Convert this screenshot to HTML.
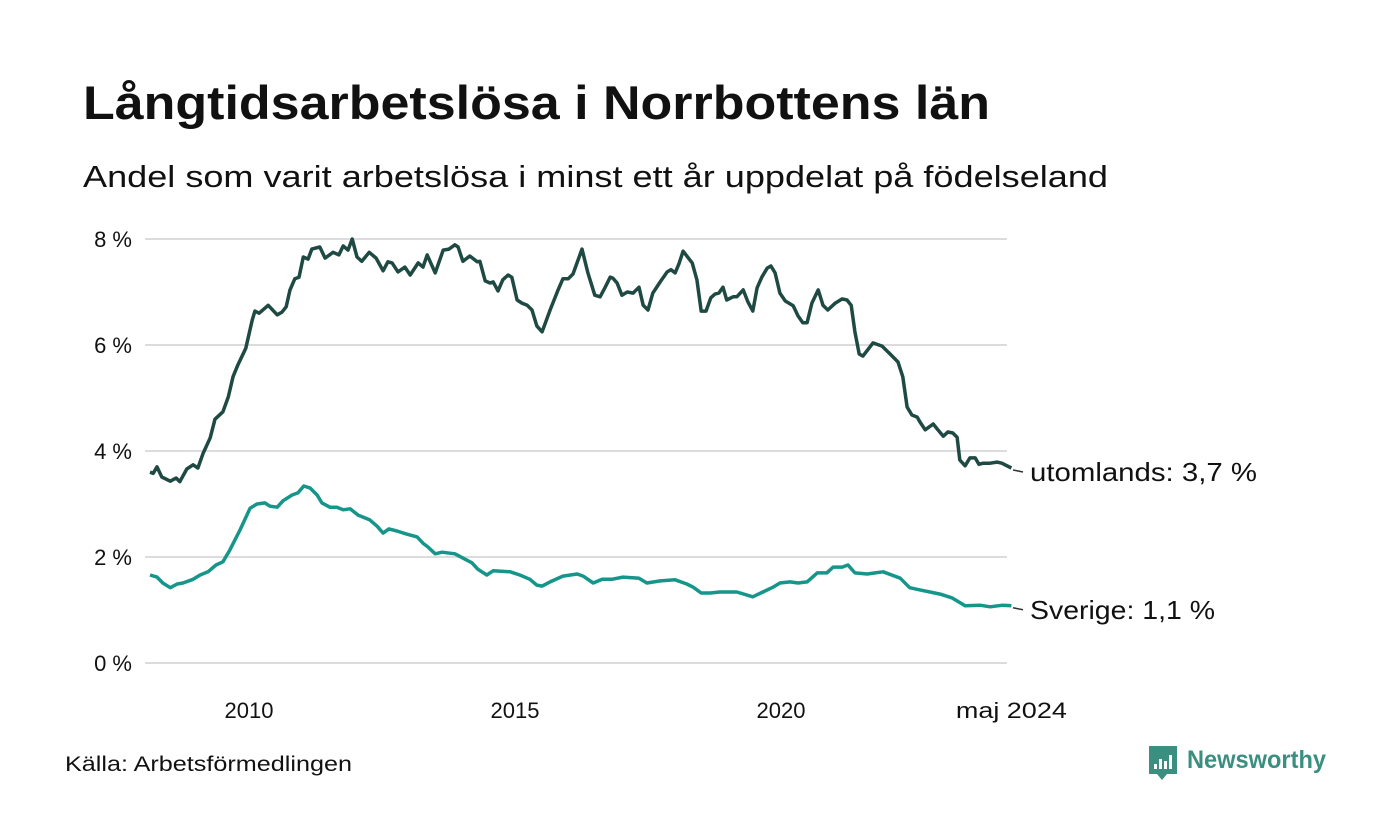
<!DOCTYPE html>
<html><head><meta charset="utf-8"><style>
body{margin:0;background:#fff;font-family:"Liberation Sans","DejaVu Sans",sans-serif}
svg{display:block}
</style></head><body>
<svg width="1400" height="840" viewBox="0 0 1400 840">
<text x="83" y="119" font-size="47" font-weight="bold" fill="#111" textLength="907" lengthAdjust="spacingAndGlyphs">Långtidsarbetslösa i Norrbottens län</text>
<text x="83" y="187" font-size="31" fill="#111" textLength="1025" lengthAdjust="spacingAndGlyphs">Andel som varit arbetslösa i minst ett år uppdelat på födelseland</text>
<g id="grid"></g>
<g id="yticks"></g>
<g id="xticks"></g>
<g id="series"></g>
<g id="labels"></g>
<text x="65" y="771" font-size="21" fill="#111" textLength="287" lengthAdjust="spacingAndGlyphs">Källa: Arbetsförmedlingen</text>
<g>
<path d="M1149 746 h28 v28 h-10 l-5 6 l-5 -6 h-8 z" fill="#3a8f80"/>
<rect x="1154" y="764" width="3" height="5" fill="#fff"/><rect x="1159" y="759" width="3" height="10" fill="#fff"/><rect x="1164" y="761" width="3" height="8" fill="#fff"/><rect x="1169" y="755" width="3" height="14" fill="#fff"/>
<text x="1187" y="768" font-size="25" font-weight="bold" fill="#3a8f80" textLength="139" lengthAdjust="spacingAndGlyphs">Newsworthy</text>
</g>
</svg>
<script>
const yTicks=[0,2,4,6,8];
const xTicks=[2010,2015,2020];
const endLabel="maj 2024";
const uDates=[2008.14,2008.20,2008.27,2008.36,2008.52,2008.63,2008.70,2008.83,2008.95,2009.04,2009.14,2009.27,2009.36,2009.51,2009.61,2009.70,2009.79,2009.94,2010.06,2010.11,2010.19,2010.36,2010.53,2010.62,2010.70,2010.77,2010.86,2010.94,2011.02,2011.11,2011.18,2011.33,2011.43,2011.58,2011.69,2011.77,2011.86,2011.94,2012.03,2012.12,2012.26,2012.39,2012.52,2012.61,2012.69,2012.80,2012.93,2013.03,2013.18,2013.27,2013.35,2013.50,2013.65,2013.76,2013.87,2013.93,2014.02,2014.15,2014.29,2014.34,2014.44,2014.53,2014.59,2014.68,2014.77,2014.87,2014.94,2015.04,2015.13,2015.23,2015.32,2015.41,2015.51,2015.66,2015.81,2015.90,2016.00,2016.09,2016.26,2016.37,2016.50,2016.60,2016.69,2016.79,2016.84,2016.92,2017.01,2017.11,2017.22,2017.33,2017.41,2017.50,2017.59,2017.73,2017.86,2017.93,2018.01,2018.08,2018.16,2018.33,2018.42,2018.50,2018.59,2018.68,2018.76,2018.83,2018.91,2018.98,2019.10,2019.17,2019.29,2019.38,2019.47,2019.55,2019.64,2019.74,2019.81,2019.89,2019.98,2020.08,2020.23,2020.32,2020.41,2020.49,2020.58,2020.70,2020.79,2020.88,2021.02,2021.15,2021.24,2021.32,2021.39,2021.47,2021.54,2021.64,2021.73,2021.90,2022.05,2022.20,2022.29,2022.37,2022.46,2022.56,2022.61,2022.71,2022.86,2022.95,2023.05,2023.14,2023.23,2023.31,2023.36,2023.46,2023.55,2023.65,2023.72,2023.80,2023.93,2024.06,2024.15,2024.33];
const uVals=[3.60,3.58,3.70,3.51,3.43,3.49,3.42,3.66,3.74,3.68,3.96,4.25,4.60,4.74,5.02,5.40,5.62,5.94,6.47,6.64,6.60,6.75,6.57,6.62,6.72,7.04,7.25,7.28,7.66,7.62,7.81,7.85,7.64,7.75,7.70,7.87,7.79,8.00,7.66,7.58,7.75,7.64,7.40,7.57,7.55,7.38,7.47,7.32,7.55,7.47,7.70,7.36,7.79,7.81,7.89,7.85,7.58,7.68,7.57,7.58,7.21,7.17,7.19,7.02,7.23,7.32,7.28,6.85,6.79,6.75,6.66,6.36,6.25,6.66,7.04,7.25,7.25,7.34,7.81,7.36,6.94,6.91,7.08,7.28,7.26,7.17,6.94,7.00,6.98,7.09,6.75,6.66,6.98,7.19,7.38,7.42,7.36,7.53,7.77,7.55,7.23,6.64,6.64,6.89,6.96,6.98,7.09,6.85,6.91,6.91,7.04,6.81,6.64,7.08,7.28,7.45,7.49,7.36,6.98,6.83,6.74,6.55,6.42,6.42,6.79,7.04,6.75,6.66,6.79,6.87,6.85,6.75,6.25,5.83,5.79,5.92,6.04,5.98,5.83,5.68,5.40,4.83,4.68,4.64,4.55,4.40,4.51,4.40,4.28,4.36,4.34,4.26,3.83,3.72,3.87,3.87,3.75,3.77,3.77,3.79,3.77,3.68];
const sDates=[2008.14,2008.27,2008.38,2008.52,2008.65,2008.76,2008.95,2009.08,2009.23,2009.38,2009.51,2009.64,2009.83,2010.02,2010.15,2010.30,2010.39,2010.53,2010.64,2010.81,2010.92,2011.03,2011.15,2011.28,2011.37,2011.52,2011.65,2011.77,2011.90,2012.05,2012.27,2012.41,2012.52,2012.63,2012.78,2012.97,2013.16,2013.27,2013.36,2013.50,2013.63,2013.87,2014.02,2014.19,2014.30,2014.47,2014.59,2014.91,2015.09,2015.28,2015.41,2015.51,2015.66,2015.90,2016.17,2016.28,2016.47,2016.64,2016.82,2017.03,2017.33,2017.48,2017.73,2018.01,2018.23,2018.35,2018.50,2018.67,2018.85,2019.17,2019.47,2019.66,2019.85,2019.98,2020.17,2020.32,2020.49,2020.68,2020.86,2020.98,2021.15,2021.26,2021.39,2021.62,2021.77,2021.92,2022.24,2022.42,2022.61,2022.80,2022.99,2023.21,2023.46,2023.74,2023.93,2024.17,2024.33];
const sVals=[1.66,1.62,1.51,1.42,1.49,1.51,1.58,1.66,1.72,1.85,1.91,2.13,2.51,2.92,3.00,3.02,2.96,2.94,3.06,3.17,3.21,3.34,3.30,3.17,3.02,2.94,2.94,2.89,2.91,2.79,2.70,2.58,2.45,2.53,2.49,2.43,2.38,2.26,2.19,2.06,2.09,2.06,1.98,1.89,1.77,1.66,1.74,1.72,1.66,1.58,1.47,1.45,1.53,1.64,1.68,1.64,1.51,1.58,1.58,1.62,1.60,1.51,1.55,1.57,1.49,1.43,1.32,1.32,1.34,1.34,1.25,1.34,1.43,1.51,1.53,1.51,1.53,1.70,1.70,1.81,1.81,1.85,1.70,1.68,1.70,1.72,1.60,1.42,1.38,1.34,1.30,1.23,1.08,1.09,1.06,1.09,1.08];
const uLabel="utomlands: 3,7 %", sLabel="Sverige: 1,1 %";
const NS="http://www.w3.org/2000/svg";
const xs=d=>249+(d-2010)*53.2;
const ys=v=>663-v*53;
function mk(tag,attrs,parent,text){const e=document.createElementNS(NS,tag);for(const k in attrs)e.setAttribute(k,attrs[k]);if(text!==undefined)e.textContent=text;document.getElementById(parent).appendChild(e);return e;}
yTicks.forEach(t=>{
 const l=mk('line',{x1:145,x2:1007,y1:ys(t),y2:ys(t),stroke:'#dcdcdf','stroke-width':2},'grid');
 
 
 const tx=mk('text',{x:132,y:ys(t)+8,'text-anchor':'end','font-size':22,fill:'#111'},'yticks',t+' %');
 
 
});
xTicks.forEach(t=>{
 const tx=mk('text',{x:xs(t),y:718,'text-anchor':'middle','font-size':22,fill:'#111'},'xticks',String(t));
 
 
});
const lastD=uDates[uDates.length-1];
const el=mk('text',{x:xs(lastD),y:718,'text-anchor':'middle','font-size':22,fill:'#111',textLength:111,lengthAdjust:'spacingAndGlyphs'},'xticks',endLabel);


function line(ds,vs,color,name){
 const d=ds.map((x,i)=>(i?'L':'M')+xs(x).toFixed(1)+' '+ys(vs[i]).toFixed(1)).join(' ');
 const p=mk('path',{d:d,fill:'none',stroke:color,'stroke-width':3.5,'stroke-linejoin':'round'},'series');
 
 
}
line(uDates,uVals,'#1f4a43','line-utomlands');
line(sDates,sVals,'#16968a','line-sverige');
function lab(ds,vs,text,name,len){
 const y=ys(vs[vs.length-1]);
 mk('line',{x1:1013,x2:1023,y1:y+2,y2:y+4,stroke:'#333','stroke-width':1.5},'labels');
 const t=mk('text',{x:1030,y:y+13,'font-size':26,fill:'#111',textLength:len,lengthAdjust:'spacingAndGlyphs'},'labels',text);
 
 
}
lab(uDates,uVals,uLabel,'label-utomlands',227);
lab(sDates,sVals,sLabel,'label-sverige',185);
</script>
</body></html>
